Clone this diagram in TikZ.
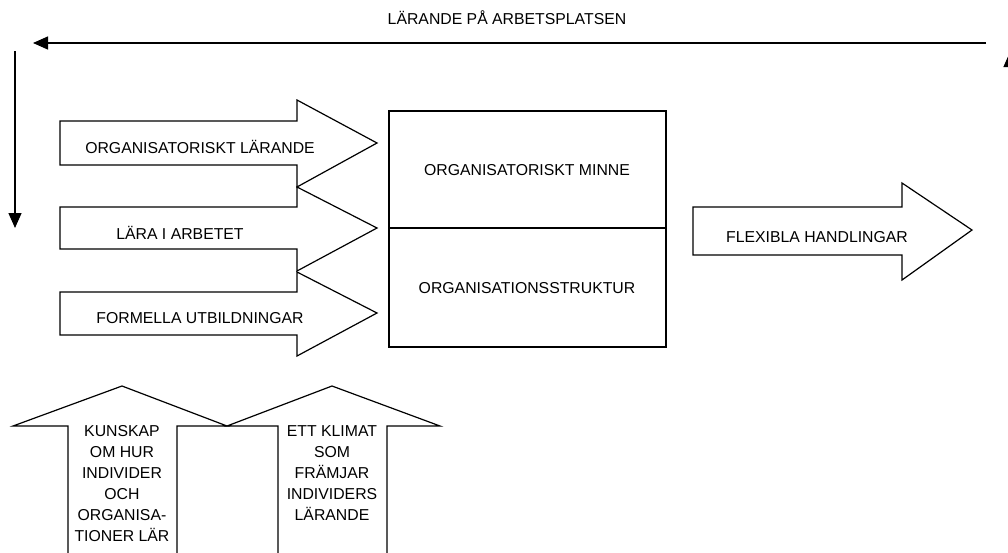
\documentclass[tikz,border=0pt]{standalone}
\usepackage{fontspec}
\setmainfont{Liberation Sans}
\usetikzlibrary{arrows.meta}
\tikzset{
  shapeline/.style={draw=black, line width=1.2pt, line join=miter, fill=white},
  lbl/.style={inner sep=0pt, font=\fontsize{15.8}{21}\selectfont, text=black},
  mlbl/.style={lbl, align=center},
  conn/.style={draw=black, line width=1.3pt, -{Triangle[length=15pt,width=13pt]}}
}
\begin{document}
\begin{tikzpicture}[x=1pt, y=-1pt]
\useasboundingbox (0,0) rectangle (1008,552);
\clip (0,0) rectangle (1008,552);
\fill[white] (0,0) rectangle (1008,552);

% top title and cycle arrows
\node[lbl] (title) at (507,18) {LÄRANDE PÅ ARBETSPLATSEN};
\coordinate (topR) at (986,43);
\coordinate (topL) at (33,43);
\coordinate (leftT) at (15,51);
\coordinate (leftB) at (15,228);
\coordinate (rightB) at (1010,230);
\coordinate (rightT) at (1010,52);
\draw[conn] (topR) -- (topL);
\draw[conn] (leftT) -- (leftB);
\draw[conn] (rightB) -- (rightT);

% left input arrows
\draw[shapeline] (60,121) -- (297,121) -- (297,100) -- (377,143) -- (297,187) -- (297,165) -- (60,165) -- cycle;
\draw[shapeline] (60,207) -- (297,207) -- (297,187) -- (377,228) -- (297,271) -- (297,249) -- (60,249) -- cycle;
\draw[shapeline] (60,292) -- (297,292) -- (297,272) -- (377,313) -- (297,356) -- (297,335) -- (60,335) -- cycle;
\node[lbl] (ol) at (200,147) {ORGANISATORISKT LÄRANDE};
\node[lbl] (la) at (180,233) {LÄRA I ARBETET};
\node[lbl] (fu) at (200,318) {FORMELLA UTBILDNINGAR};

% central box
\draw[shapeline] (389,111) rectangle (666,347);
\draw[black, line width=1.2pt] (389,228) -- (666,228);
\node[lbl] (om) at (527,170) {ORGANISATORISKT MINNE};
\node[lbl] (os) at (527,288) {ORGANISATIONSSTRUKTUR};

% output arrow
\draw[shapeline] (693,207) -- (902,207) -- (902,183) -- (972,230) -- (902,280) -- (902,255) -- (693,255) -- cycle;
\node[lbl] (fh) at (817,237) {FLEXIBLA HANDLINGAR};

% bottom upward arrows
\draw[shapeline] (68,560) -- (68,426) -- (13,426) -- (122,386) -- (227,426) -- (177,426) -- (177,560);
\draw[shapeline] (278,560) -- (278,426) -- (227,426) -- (332,386) -- (440,426) -- (387,426) -- (387,560);
\node[mlbl, anchor=north] (kh) at (122,425) {KUNSKAP\\OM HUR\\INDIVIDER\\OCH\\ORGANISA-\\TIONER LÄR};
\node[mlbl, anchor=north] (ek) at (332,425) {ETT KLIMAT\\SOM\\FRÄMJAR\\INDIVIDERS\\LÄRANDE};
\end{tikzpicture}
\end{document}
